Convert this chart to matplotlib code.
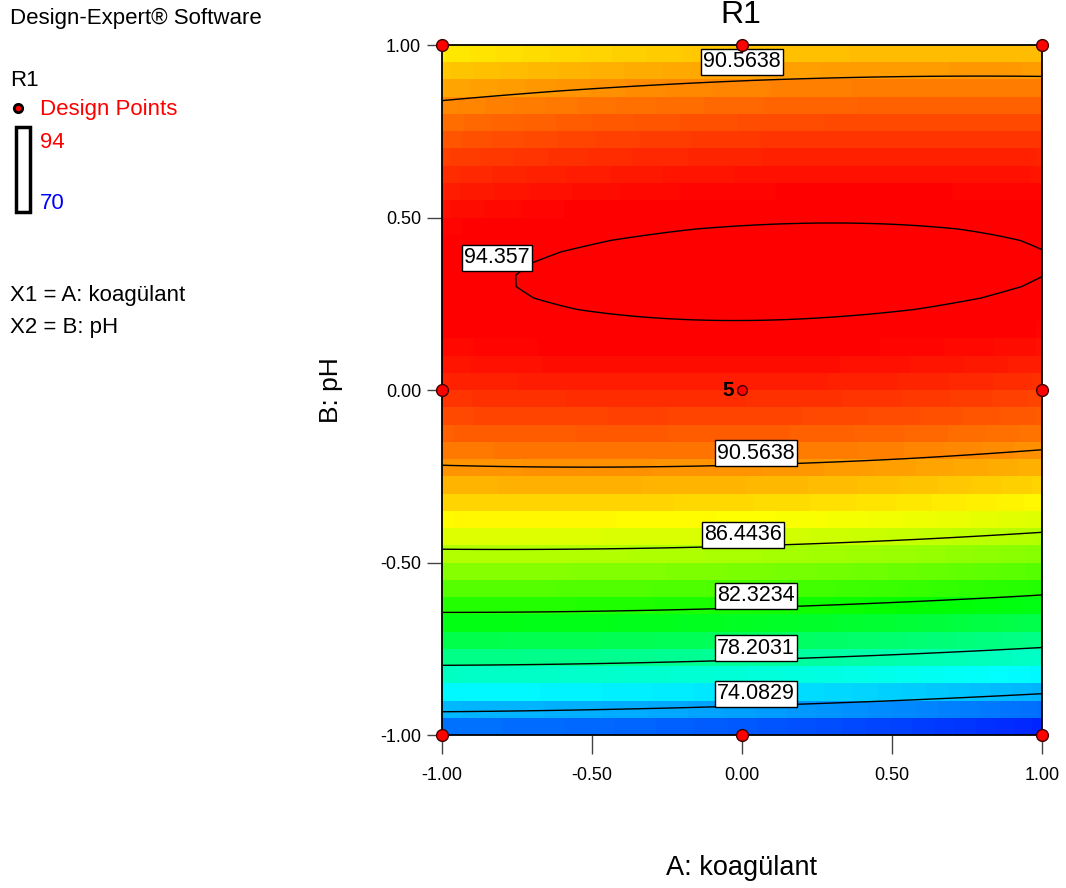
import numpy as np
import matplotlib
matplotlib.use("Agg")
import matplotlib.pyplot as plt
from matplotlib.colors import LinearSegmentedColormap, Normalize
from matplotlib.patches import Rectangle

plt.rcParams['font.family'] = ['Liberation Sans', 'DejaVu Sans']

# Design points (coded units) and observed R1 responses
A_pts = [-1, 0, 1, -1, 0, 1, -1, 0, 1, 0, 0, 0, 0]
B_pts = [-1, -1, -1, 0, 0, 0, 1, 1, 1, 0, 0, 0, 0]
R1 = [71.8, 71.3, 70.0, 93.0, 93.0, 92.6, 88.0, 88.9, 89.2, 94.0, 92.5, 93.5, 92.5]

# Contour levels shown on the chart, and where their labels sit (A, B)
levels = [74.0829, 78.2031, 82.3234, 86.4436, 90.5638, 94.357]
label_text = ['90.5638', '94.357', '90.5638', '86.4436', '82.3234', '78.2031', '74.0829']
label_A = [0.0, -0.817, 0.047, 0.003, 0.047, 0.047, 0.047]
label_B = [0.951, 0.383, -0.183, -0.420, -0.597, -0.748, -0.881]

ticks = [-1.0, -0.5, 0.0, 0.5, 1.0]

# Fit quadratic model R1 = b0 + b1 A + b2 B + b12 AB + b11 A^2 + b22 B^2
A = np.array(A_pts, float)
B = np.array(B_pts, float)
X = np.column_stack([np.ones_like(A), A, B, A * B, A ** 2, B ** 2])
coef, *_ = np.linalg.lstsq(X, np.array(R1), rcond=None)


def model(a, b):
    return coef[0] + coef[1] * a + coef[2] * b + coef[3] * a * b + coef[4] * a ** 2 + coef[5] * b ** 2


cmap = LinearSegmentedColormap.from_list(
    'de', ['#0000ff', '#00ffff', '#00ff00', '#ffff00', '#ff0000'])
norm = Normalize(vmin=min(R1), vmax=max(R1))

fig = plt.figure(figsize=(10.66, 8.88), dpi=100)
ax = fig.add_axes([442 / 1066, 1 - 735 / 888, 600 / 1066, 690 / 888])

# banded fill: coarse rows, fine columns
xe = np.linspace(-1, 1, 301)
ye = np.linspace(-1, 1, 41)
xc = (xe[:-1] + xe[1:]) / 2
yc = (ye[:-1] + ye[1:]) / 2
XC, YC = np.meshgrid(xc, yc)
ax.pcolormesh(xe, ye, model(XC, YC), cmap=cmap, norm=norm, shading='flat')

# contour lines
gx = np.linspace(-1, 1, 61)
gy = np.linspace(-1, 1, 61)
GX, GY = np.meshgrid(gx, gy)
ax.contour(GX, GY, model(GX, GY), levels=levels, colors='black', linewidths=1.0)

for t, a, b in zip(label_text, label_A, label_B):
    ax.text(a, b, t, ha='center', va='center', fontsize=15.5, zorder=5,
            bbox=dict(boxstyle='square,pad=0.1', fc='white', ec='black', lw=1))

# design points
edge = [(a, b) for a, b in zip(A_pts, B_pts) if not (a == 0 and b == 0)]
ax.plot([p[0] for p in edge], [p[1] for p in edge], 'o', color='red', mec='#400000',
        mew=1, ms=8.5, clip_on=False, zorder=6)
ax.plot([0], [0], 'o', color='red', mec='#400000', mew=1, ms=7, zorder=6)
n_center = sum(1 for a, b in zip(A_pts, B_pts) if a == 0 and b == 0)
ax.text(-0.025, 0, str(n_center), ha='right', va='center', fontsize=15, fontweight='bold', zorder=6)

ax.set_xlim(-1, 1)
ax.set_ylim(-1, 1)
ax.set_xticks(ticks)
ax.set_yticks(ticks)
ax.set_xticklabels(['%.2f' % t for t in ticks])
ax.set_yticklabels(['%.2f' % t for t in ticks])
ax.tick_params(direction='out', width=1, color='#444444', labelsize=13)
ax.tick_params(axis='x', length=14, pad=9)
ax.tick_params(axis='y', length=11, pad=4)
for s in ax.spines.values():
    s.set_linewidth(1.3)

# titles and axis labels
fig.text(741 / 1066, 1 - 15 / 888, 'R1', ha='center', va='center', fontsize=23)
fig.text(741 / 1066, 1 - 868 / 888, 'A: koagülant', ha='center', va='center', fontsize=19.5)
fig.text(331 / 1066, 1 - 390 / 888, 'B: pH', ha='center', va='center', fontsize=19, rotation=90)

# left-side legend block
fs = 16
fig.text(10 / 1066, 1 - 18 / 888, 'Design-Expert® Software', ha='left', va='center', fontsize=fs)
fig.text(10 / 1066, 1 - 80 / 888, 'R1', ha='left', va='center', fontsize=fs)
fig.lines.append(plt.Line2D([18 / 1066], [1 - 108 / 888], marker='o', color='red', mec='black',
                            mew=2, ms=6, transform=fig.transFigure, figure=fig))
fig.text(40 / 1066, 1 - 110 / 888, 'Design Points', ha='left', va='center', fontsize=fs, color='red')
fig.patches.append(Rectangle((16 / 1066, 1 - 212 / 888), 14 / 1066, 85 / 888, fill=False,
                             ec='black', lw=2.5, transform=fig.transFigure, figure=fig))
fig.text(40 / 1066, 1 - 142 / 888, '%d' % max(R1), ha='left', va='center', fontsize=fs, color='red')
fig.text(40 / 1066, 1 - 203 / 888, '%d' % min(R1), ha='left', va='center', fontsize=fs, color='blue')
fig.text(10 / 1066, 1 - 296 / 888, 'X1 = A: koagülant', ha='left', va='center', fontsize=fs)
fig.text(10 / 1066, 1 - 327 / 888, 'X2 = B: pH', ha='left', va='center', fontsize=fs)

fig.savefig('out.png', dpi=100)
